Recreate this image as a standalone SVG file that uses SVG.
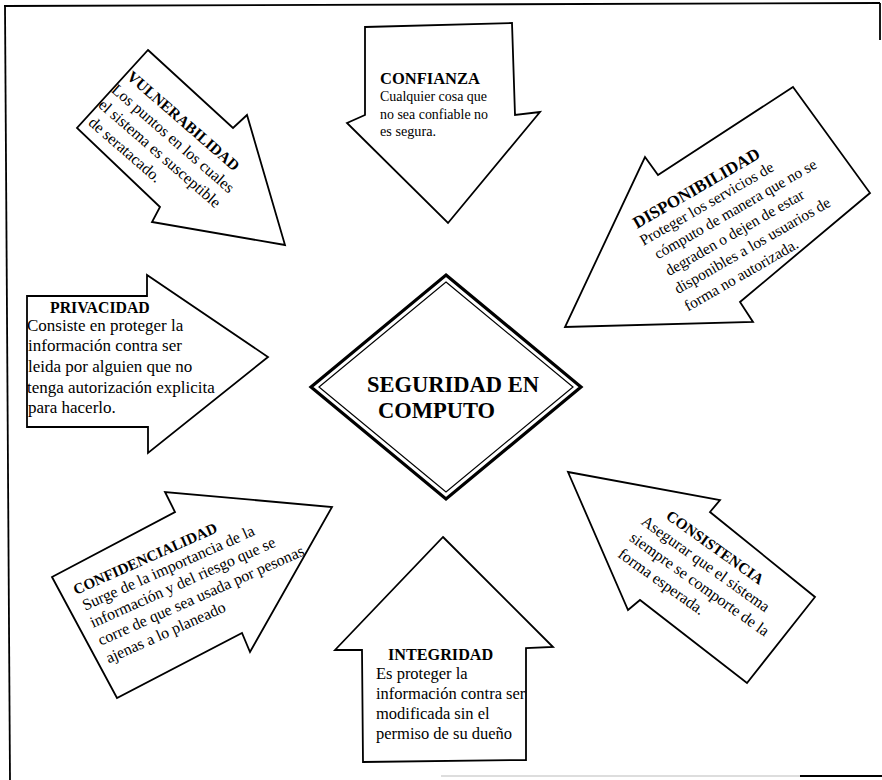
<svg xmlns="http://www.w3.org/2000/svg" width="882" height="780" viewBox="0 0 882 780">
<style>
.arrow{fill:#fff;stroke:#000;stroke-width:1.8;stroke-linejoin:miter}
.h{font-family:"Liberation Serif","Times New Roman",serif;font-weight:bold;fill:#000}
.b{font-family:"Liberation Serif","Times New Roman",serif;fill:#000}
.frame{stroke:#000;stroke-width:1.8;fill:none}
</style>
<rect width="882" height="780" fill="#fff"/>
<g id="frame">
<line class="frame" x1="4" y1="6" x2="880" y2="3"/>
<line class="frame" x1="5" y1="6" x2="10" y2="780"/>
<line class="frame" x1="880" y1="3" x2="880" y2="40"/>
<line x1="441" y1="776" x2="800" y2="776" stroke="#bbb" stroke-width="1.2"/>
<line class="frame" x1="800" y1="776" x2="882" y2="776"/>
</g>
<g id="connectors"></g>
<g id="center">
<polygon points="446,275 581,387 446,499 311,387" fill="#fff" stroke="#000" stroke-width="3.2"/>
<polygon points="446,282 573,387 446,492 319,387" fill="none" stroke="#000" stroke-width="1.2"/>
<text class="h" x="367" y="392" font-size="22.5">SEGURIDAD EN</text>
<text class="h" x="378" y="418" font-size="22.5">COMPUTO</text>
</g>
<g id="vulnerabilidad">
<polygon class="arrow" points="148,50 233,128 247,115 285,245 152,222 160,207 77,128"/>
<g transform="translate(126,78) rotate(41)">
<text class="h" x="0" y="0" font-size="15.5">VULNERABILIDAD</text>
<text class="b" x="-3" y="20" font-size="16">Los puntos en los cuales</text>
<text class="b" x="-3" y="40" font-size="16">el sistema es susceptible</text>
<text class="b" x="1" y="60" font-size="16">de seratacado.</text>
</g>
</g>
<g id="confianza">
<polygon class="arrow" points="365,27 512,23 515,115 540,112 448,223 347,123 365,115"/>
<text class="h" x="380" y="84" font-size="16.5">CONFIANZA</text>
<text class="b" x="380" y="101" font-size="15" textLength="107" lengthAdjust="spacingAndGlyphs">Cualquier cosa que</text>
<text class="b" x="380" y="118.5" font-size="15" textLength="108" lengthAdjust="spacingAndGlyphs">no sea confiable no</text>
<text class="b" x="380" y="136" font-size="15" textLength="56" lengthAdjust="spacingAndGlyphs">es segura.</text>
</g>
<g id="disponibilidad">
<polygon class="arrow" points="793,87 870,193 740,302 753,322 565,327 645,157 658,175"/>
<g transform="translate(637,229) rotate(-30)">
<text class="h" x="0" y="0" font-size="17">DISPONIBILIDAD</text>
<text class="b" x="-3" y="18" font-size="15.5">Proteger los servicios de</text>
<text class="b" x="3" y="37" font-size="15.5">cómputo de manera que no se</text>
<text class="b" x="4" y="57" font-size="15.5">degraden o dejen de estar</text>
<text class="b" x="3" y="77" font-size="15.5">disponibles a los usuarios de</text>
<text class="b" x="3" y="97" font-size="15.5">forma no autorizada.</text>
</g>
</g>
<g id="privacidad">
<polygon class="arrow" points="27,296 147,296 147,275 268,357 148,453 148,427 27,427"/>
<text class="h" x="50" y="313" font-size="15.8">PRIVACIDAD</text>
<text class="b" x="27" y="331" font-size="17">Consiste en proteger la</text>
<text class="b" x="28" y="351" font-size="17">información  contra ser</text>
<text class="b" x="28" y="372" font-size="17">leida por alguien que no</text>
<text class="b" x="27" y="393" font-size="17">tenga autorización explicita</text>
<text class="b" x="28" y="413" font-size="17">para hacerlo.</text>
</g>
<g id="confidencialidad">
<polygon class="arrow" points="52,577 175,512 165,492 332,507 250,652 242,633 117,698"/>
<g transform="translate(76,595) rotate(-24)">
<text class="h" x="0" y="0" font-size="15">CONFIDENCIALIDAD</text>
<text class="b" x="2" y="18" font-size="16">Surge de la importancia de la</text>
<text class="b" x="2" y="37" font-size="16">información y del riesgo que se</text>
<text class="b" x="2" y="56.5" font-size="16">corre de que sea usada por pesonas</text>
<text class="b" x="2" y="76" font-size="16">ajenas a lo planeado</text>
</g>
</g>
<g id="integridad">
<polygon class="arrow" points="443,537 553,647 526,648 526,760 363,762 362,650 335,650"/>
<text class="h" x="388" y="660" font-size="16.2">INTEGRIDAD</text>
<text class="b" x="376" y="679" font-size="16.5">Es proteger la</text>
<text class="b" x="376" y="699" font-size="16.5">información contra ser</text>
<text class="b" x="376" y="719" font-size="16.5">modificada sin el</text>
<text class="b" x="376" y="739" font-size="16.5">permiso de su dueño</text>
</g>
<g id="consistencia">
<polygon class="arrow" points="568,472 720,500 710,512 815,597 747,683 640,600 628,610"/>
<g transform="translate(665,518) rotate(35.5)">
<text class="h" x="0" y="0" font-size="15.2">CONSISTENCIA</text>
<text class="b" x="-17" y="19" font-size="16">Asegurar que el sistema</text>
<text class="b" x="-17" y="39" font-size="16">siempre se comporte de la</text>
<text class="b" x="-17" y="59" font-size="16">forma esperada.</text>
</g>
</g>
</svg>
